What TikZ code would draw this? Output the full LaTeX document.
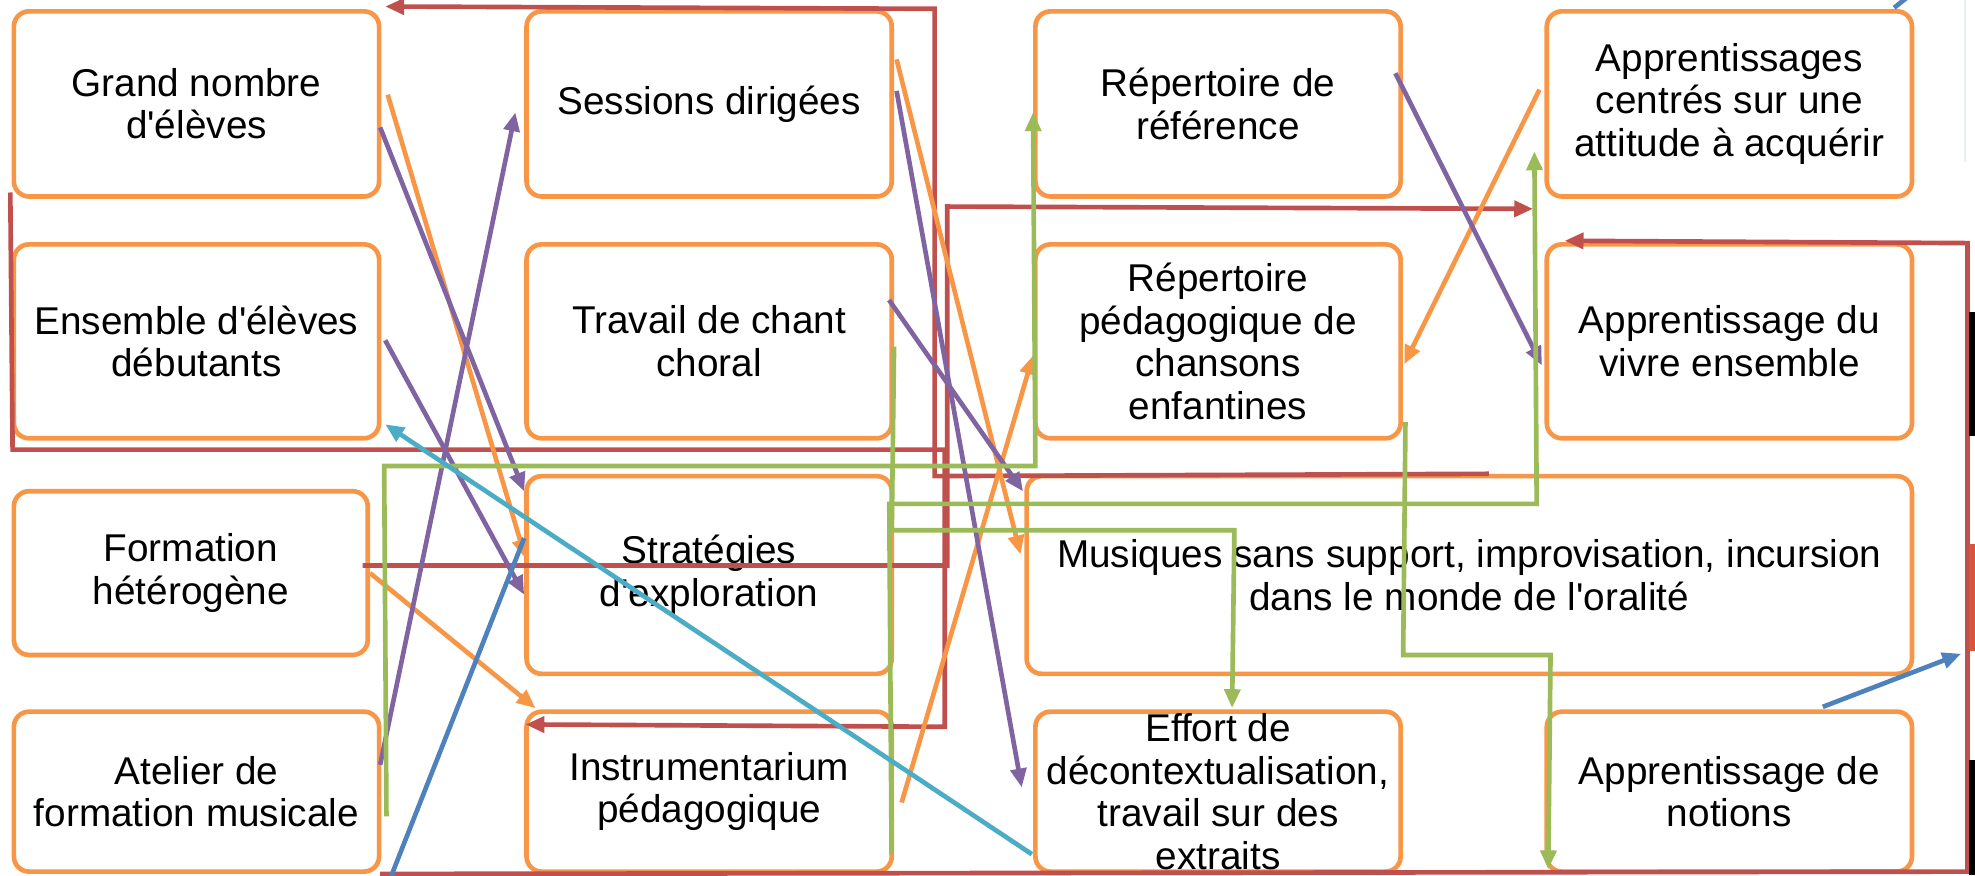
\documentclass[tikz,border=0pt]{standalone}
\usepackage{fontspec}
\setmainfont{Liberation Sans}
\usetikzlibrary{arrows.meta,calc}
\definecolor{boxorange}{HTML}{F79646}
\definecolor{cred}{HTML}{C0504D}
\definecolor{cgreen}{HTML}{9BBB59}
\definecolor{cpurple}{HTML}{8064A2}
\definecolor{cblue}{HTML}{4F81BD}
\definecolor{ccyan}{HTML}{4BACC6}
\definecolor{cfaint}{HTML}{E2F2F6}
\definecolor{cedge}{HTML}{D9553A}
\newcommand{\ap}{\textquotesingle}
\begin{document}
\begin{tikzpicture}[x=0.02cm,y=-0.02cm,
  box/.style={draw=boxorange, line width=2.1pt, rounded corners=0.24cm, fill=white,
    align=center, inner sep=0pt, text=black, font=\fontsize{17.5}{19.2}\selectfont},
  conn/.style={line width=2.1pt},
  head/.style={-{Triangle[length=0.3cm,width=0.25cm]}}
]
\useasboundingbox (0,0) rectangle (1568,694.7);

% ---------------- boxes ----------------
\node[box, minimum width=5.8cm, minimum height=2.94cm] (A) at (156,82.5) {Grand nombre\\d\ap élèves};
\node[box, minimum width=5.8cm, minimum height=2.94cm] (B) at (563,82.5) {Sessions dirigées};
\node[box, minimum width=5.8cm, minimum height=2.94cm] (C) at (967,82.5) {Répertoire de\\référence};
\node[box, minimum width=5.8cm, minimum height=2.94cm] (D) at (1373,82.5) {Apprentissages\\centrés sur une\\attitude à acquérir};

\node[box, minimum width=5.8cm, minimum height=3.08cm] (E) at (156,271) {Ensemble d\ap élèves\\débutants};
\node[box, minimum width=5.8cm, minimum height=3.08cm] (F) at (563,271) {Travail de chant\\choral};
\node[box, minimum width=5.8cm, minimum height=3.08cm] (G) at (967,271) {Répertoire\\pédagogique de\\chansons\\enfantines};
\node[box, minimum width=5.8cm, minimum height=3.08cm] (H) at (1373,271) {Apprentissage du\\vivre ensemble};

\node[box, minimum width=5.62cm, minimum height=2.6cm] (I) at (151.5,455) {Formation\\hétérogène};
\node[box, minimum width=5.8cm, minimum height=3.14cm] (J) at (563,456.5) {Stratégies\\d\ap exploration};
\node[box, minimum width=14.06cm, minimum height=3.14cm] (K) at (1166.5,456.5) {Musiques sans support, improvisation, incursion\\dans le monde de l\ap oralité};

\node[box, minimum width=5.8cm, minimum height=2.54cm] (L) at (156,628.5) {Atelier de\\formation musicale};
\node[box, minimum width=5.8cm, minimum height=2.54cm] (M) at (563,628.5) {Instrumentarium\\pédagogique};
\node[box, minimum width=5.8cm, minimum height=2.54cm] (N) at (967,628.5) {Effort de\\décontextualisation,\\travail sur des\\extraits};
\node[box, minimum width=5.8cm, minimum height=2.54cm] (O) at (1373,628.5) {Apprentissage de\\notions};

% free ends
\coordinate (blueBottom) at (310,697);
\coordinate (blueTopOut) at (1514,-2);
\coordinate (blueRight) at (1557,519);

% ---------------- red connectors ----------------
\draw[conn, cred, head] ($(K.north west)!0.522!(K.north east)$) -- (742,378) -- (742,7) -- ($(A.north east)+(3,-2)$);
\draw[conn, cred, head] ($(I.east)+(-6,-6)$) -- (752,449) -- (752,164) -- ($(D.south west)+(-9,8)$);
\draw[conn, cred, head] ($(A.south west)+(-1,-5)$) -- (10,357) -- (750,357) -- (750,577) -- ($(M.north west)+(1,12)$);
\draw[conn, cred, head] ($(L.south east)+(-1,0)$) -- (1562,692) -- (1562,193) -- ($(H.north west)+(16,-1)$);

% ---------------- orange connectors ----------------
\draw[conn, boxorange, head] ($(A.north east)+(5,68)$) -- ($(J.north west)+(1,67)$);
\draw[conn, boxorange, head] ($(B.north east)+(2,40)$) -- ($(K.north west)+(-3,64)$);
\draw[conn, boxorange, head] ($(M.north east)+(6,74)$) -- ($(G.north west)+(0,90)$);
\draw[conn, boxorange, head] ($(D.north west)+(-4,64)$) -- ($(G.north east)+(1,97)$);
\draw[conn, boxorange, head] (I.east) -- ($(M.north west)+(9,-1)$);

% ---------------- purple connectors ----------------
\draw[conn, cpurple, head] ($(A.north east)+(-1,94)$) -- ($(J.north west)+(0,14)$);
\draw[conn, cpurple, head] ($(E.north east)+(3,78)$) -- ($(J.north west)+(0,96)$);
\draw[conn, cpurple, head] ($(L.north east)+(-1,44)$) -- ($(B.north west)+(-7,82)$);
\draw[conn, cpurple, head] ($(B.north east)+(2,65)$) -- ($(N.north west)+(-9,62)$);
\draw[conn, cpurple, head] ($(F.north east)+(-4,46)$) -- ($(K.north west)+(-1,14)$);
\draw[conn, cpurple, head] ($(C.north east)+(-6,51)$) -- ($(H.north west)+(-2,98)$);

% ---------------- green connectors ----------------
\draw[conn, cgreen, head] ($(L.north east)+(4,85)$) -- (305,370) -- (822,370) -- ($(C.north west)+(0,82)$);
\draw[conn, cgreen, head] ($(F.north east)+(0,83)$) -- (708,421) -- (980,421) -- ($(N.north west)+(158,-1)$);
\draw[conn, cgreen, head] ($(M.north east)+(-2,115)$) -- (706,400) -- (1220,400) -- ($(D.north west)+(-8,113)$);
\draw[conn, cgreen, head] ($(G.north east)+(2,143)$) -- (1114,520) -- (1231,520) -- ($(O.north west)+(3,127)$);

% ---------------- blue connectors ----------------
\draw[conn, cblue] (blueBottom) -- ($(J.north west)+(0,51)$);
\draw[conn, cblue] ($(D.north east)+(-16,-1)$) -- (blueTopOut);
\draw[conn, cblue, head] ($(O.north west)+(221,-2)$) -- (blueRight);

% ---------------- cyan connector ----------------
\draw[conn, ccyan, head] ($(N.north west)+(-1,115)$) -- ($(E.south east)+(3,-13)$);

% ---------------- edge remnants ----------------
\coordinate (faintTop) at (1560,0);
\coordinate (faintBot) at (1560,129);
\draw[cfaint, line width=0.8pt] (faintTop) -- (faintBot);
\fill[black] (1563.5,248) rectangle (1568,346);
\fill[cedge] (1563.5,432) rectangle (1568,517);
\fill[black] (1563.5,603) rectangle (1568,694.7);
\end{tikzpicture}
\end{document}
